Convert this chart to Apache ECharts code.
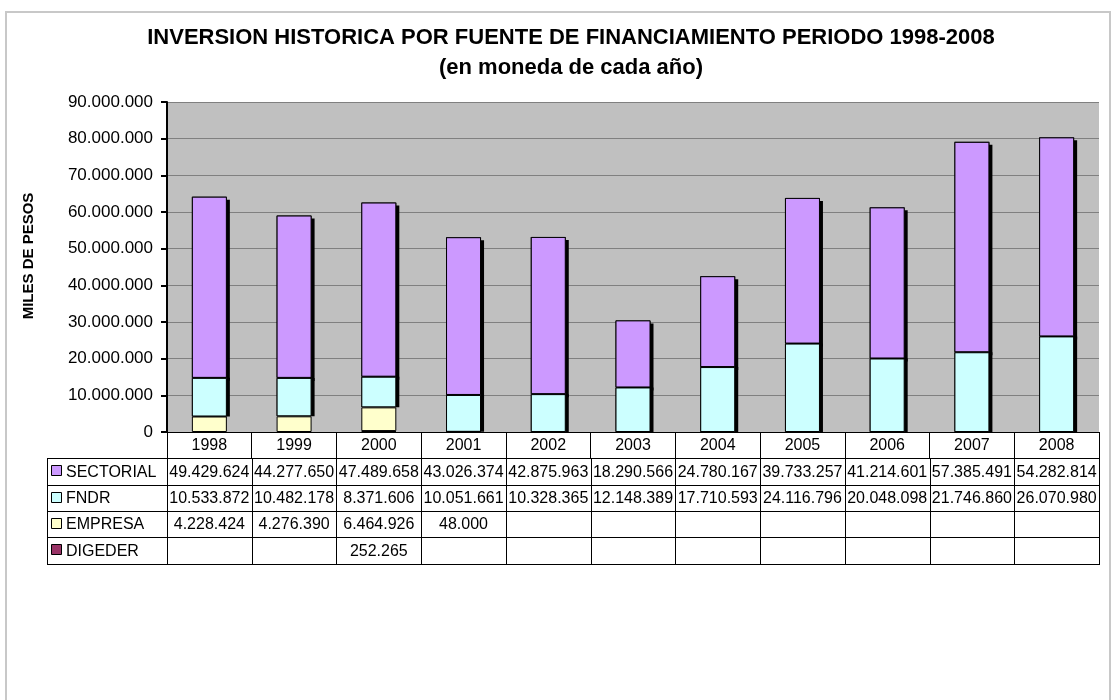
<!DOCTYPE html>
<html>
<head>
<meta charset="utf-8">
<script src="https://cdn.jsdelivr.net/npm/echarts@6/dist/echarts.min.js"></script>
<style>
  html, body { margin: 0; padding: 0; background: #fff; }
  #chart { width: 1112px; height: 700px; }
</style>
</head>
<body>
<div id="chart"></div>
<script>
const years = ["1998", "1999", "2000", "2001", "2002", "2003", "2004", "2005", "2006", "2007", "2008"];
const sectorial = [49429624, 44277650, 47489658, 43026374, 42875963, 18290566, 24780167, 39733257, 41214601, 57385491, 54282814];
const fndr = [10533872, 10482178, 8371606, 10051661, 10328365, 12148389, 17710593, 24116796, 20048098, 21746860, 26070980];
const empresa = [4228424, 4276390, 6464926, 48000, null, null, null, null, null, null, null];
const digeder = [null, null, 252265, null, null, null, null, null, null, null, null];
const yTicks = [0, 10000000, 20000000, 30000000, 40000000, 50000000, 60000000, 70000000, 80000000, 90000000];

// layout
const gLeft = 167, gRight = 1099, gTop = 102, gBottom = 432;
const catW = (gRight - gLeft) / years.length;
const rowH = 26.3;
const tableLeft = 47;
const font = "Arial, 'Liberation Sans', sans-serif";

function fmt(v) {
  if (v == null) return "";
  return String(v).replace(/\B(?=(\d{3})+(?!\d))/g, ".");
}

// table rows, top to bottom
const rows = [
  { name: "SECTORIAL", data: sectorial, color: "#CC99FF" },
  { name: "FNDR", data: fndr, color: "#CCFFFF" },
  { name: "EMPRESA", data: empresa, color: "#FFFFCC" },
  { name: "DIGEDER", data: digeder, color: "#993366" },
];

const graphics = [];
// outer frame
graphics.push({
  type: "rect", silent: true, z: 0,
  shape: { x: 6, y: 12, width: 1104, height: 700 },
  style: { fill: null, stroke: "#c8c8c8", lineWidth: 2 },
});
// axis title
graphics.push({
  type: "text", x: 29, y: 256, rotation: Math.PI / 2,
  style: { text: "MILES DE PESOS", font: "bold 15px " + font, fill: "#000", align: "center", verticalAlign: "middle" },
});

const tTop = gBottom + rowH;
const tBot = tTop + rowH * rows.length;
for (let r = 0; r <= rows.length; r++) {
  const y = Math.round(tTop + r * rowH) + 0.5;
  graphics.push({
    type: "line", silent: true,
    shape: { x1: tableLeft, y1: y, x2: gRight, y2: y },
    style: { stroke: "#000", lineWidth: 1 },
  });
}
const vx = [tableLeft];
for (let k = 0; k <= years.length; k++) vx.push(gLeft + k * catW);
vx.forEach((x) => {
  const xx = Math.round(x) + 0.5;
  graphics.push({
    type: "line", silent: true,
    shape: { x1: xx, y1: Math.round(tTop), x2: xx, y2: Math.round(tBot) + 1 },
    style: { stroke: "#000", lineWidth: 1 },
  });
});
rows.forEach((row, r) => {
  const cy = tTop + r * rowH + rowH / 2;
  graphics.push({
    type: "rect", silent: true,
    shape: { x: 51.5, y: Math.round(cy - 5) - 0.5, width: 10, height: 10 },
    style: { fill: row.color, stroke: "#000", lineWidth: 1 },
  });
  graphics.push({
    type: "text", x: 66, y: cy + 1,
    style: { text: row.name, font: "16px " + font, fill: "#000", align: "left", verticalAlign: "middle" },
  });
  row.data.forEach((v, i) => {
    if (v == null) return;
    graphics.push({
      type: "text", x: gLeft + (i + 0.5) * catW, y: cy + 1,
      style: { text: fmt(v), font: "16px " + font, fill: "#000", align: "center", verticalAlign: "middle" },
    });
  });
});

function barSeries(name, data, color, z) {
  return {
    name: name, type: "bar", stack: "total", barWidth: 35, barGap: "-100%", z: z, data: data,
    itemStyle: { color: color, borderColor: "#000", borderWidth: 1 },
  };
}
// hidden copy of the stack that only casts the drop shadow
function shadowSeries(data, offY) {
  return {
    type: "bar", stack: "shadow", barWidth: 35, barGap: "-100%", z: 1, silent: true, data: data,
    itemStyle: offY == null
      ? { color: "transparent" }
      : { color: "#000", shadowColor: "#000", shadowBlur: 0, shadowOffsetX: 3, shadowOffsetY: offY },
  };
}

const chart = echarts.init(document.getElementById("chart"));
chart.setOption({
  animation: false,
  backgroundColor: "#fff",
  title: {
    text: "INVERSION HISTORICA POR FUENTE DE FINANCIAMIENTO PERIODO 1998-2008\n(en moneda de cada año)",
    left: 566, top: 18, textAlign: "center",
    textStyle: { fontFamily: font, fontWeight: "bold", fontSize: 22, lineHeight: 30, color: "#000" },
  },
  grid: {
    left: gLeft, right: 1112 - gRight, top: gTop, bottom: 700 - gBottom,
    show: true, backgroundColor: "#c0c0c0", borderWidth: 0,
  },
  xAxis: {
    type: "category",
    data: years,
    axisLine: { show: true, lineStyle: { color: "#000", width: 1 } },
    axisTick: { show: true, length: rowH, lineStyle: { color: "#000", width: 1 } },
    axisLabel: { margin: 6, fontSize: 16, fontFamily: font, color: "#000" },
    splitLine: { show: false },
  },
  yAxis: {
    type: "value",
    min: yTicks[0], max: yTicks[yTicks.length - 1], interval: yTicks[1] - yTicks[0],
    axisLine: { show: true, lineStyle: { color: "#000", width: 2 } },
    axisTick: { show: true, length: 6, lineStyle: { color: "#000", width: 2 } },
    axisLabel: { margin: 14, fontSize: 17, fontFamily: font, color: "#000", formatter: (v) => fmt(v) },
    splitLine: { show: true, lineStyle: { color: "#808080", width: 1 } },
  },
  series: [
    shadowSeries(digeder, null),
    shadowSeries(empresa, null),
    shadowSeries(fndr, 0),
    shadowSeries(sectorial, 3),
    barSeries("DIGEDER", digeder, "#993366", 6),
    barSeries("EMPRESA", empresa, "#FFFFCC", 5),
    barSeries("FNDR", fndr, "#CCFFFF", 4),
    barSeries("SECTORIAL", sectorial, "#CC99FF", 3),
  ],
  graphic: graphics,
});
</script>
</body>
</html>
